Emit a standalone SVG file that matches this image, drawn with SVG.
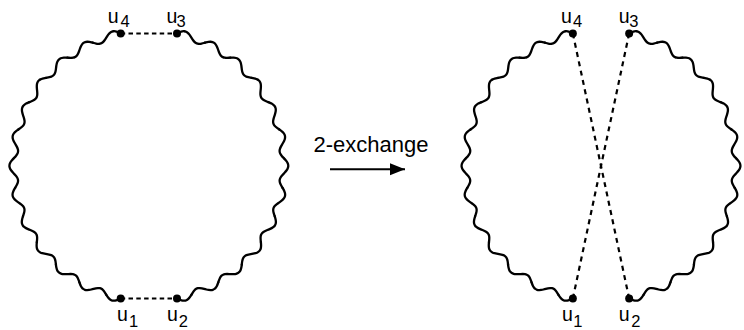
<svg xmlns="http://www.w3.org/2000/svg" xmlns:xlink="http://www.w3.org/1999/xlink" width="744" height="330" viewBox="0 0 744 330">
  <style>
    .wave { fill: none; stroke: #000; stroke-width: 2.3; stroke-linecap: round; stroke-linejoin: round; }
    .edge { fill: none; stroke: #000; stroke-width: 2.2; stroke-dasharray: 4.5 3.3; }
    .cross { fill: none; stroke: #000; stroke-width: 2.2; stroke-dasharray: 5 4.5; }
    .dot { fill: #000; }
    .lbl { font-family: "Liberation Sans", Arial, sans-serif; font-size: 19.5px; fill: #000; }
    .sub { font-size: 16.5px; }
    .cap { font-family: "Liberation Sans", Arial, sans-serif; font-size: 22px; fill: #000; }
  </style>
  <defs>
    <!-- one period of the wavy tour segment, radius 135.5, amplitude 4, spanning 12.47 degrees -->
    <path id="wave" class="wave" d="M135.5,0 L136.259,0.932 Q137.018,1.864 137.648,2.813 Q138.277,3.763 138.678,4.721 Q139.080,5.679 139.187,6.633 Q139.294,7.587 139.084,8.523 Q138.874,9.460 138.371,10.369 Q137.868,11.277 137.139,12.153 Q136.410,13.028 135.554,13.872 Q134.699,14.716 133.833,15.538 Q132.967,16.360 132.206,17.176 Q131.446,17.991 130.889,18.820 Q130.332,19.648 130.042,20.509 Q129.752,21.370 129.751,22.278 Q129.749,23.186 130.011,24.150 Q130.273,25.113 130.732,26.130 Q131.190,27.146 131.747,28.202 L132.303,29.258"/>
    <!-- outward half period -->
    <path id="halfwave" class="wave" d="M135.5,0 L136.259,0.932 Q137.018,1.864 137.648,2.813 Q138.277,3.763 138.678,4.721 Q139.080,5.679 139.187,6.633 Q139.294,7.587 139.084,8.523 Q138.874,9.460 138.371,10.369 Q137.868,11.277 137.139,12.153 Q136.410,13.028 135.554,13.872 L134.699,14.716"/>
    <!-- half tour: 12.5 periods from the top node round to the bottom node -->
    <g id="arc" transform="rotate(-78)">
      <use href="#wave"/>
      <use href="#wave" transform="rotate(12.47)"/>
      <use href="#wave" transform="rotate(24.94)"/>
      <use href="#wave" transform="rotate(37.41)"/>
      <use href="#wave" transform="rotate(49.88)"/>
      <use href="#wave" transform="rotate(62.35)"/>
      <use href="#wave" transform="rotate(74.82)"/>
      <use href="#wave" transform="rotate(87.29)"/>
      <use href="#wave" transform="rotate(99.76)"/>
      <use href="#wave" transform="rotate(112.23)"/>
      <use href="#wave" transform="rotate(124.7)"/>
      <use href="#wave" transform="rotate(137.17)"/>
      <use href="#halfwave" transform="rotate(149.64)"/>
    </g>
    <marker id="head" markerUnits="userSpaceOnUse" markerWidth="16" markerHeight="13" refX="15" refY="6" orient="auto" viewBox="0 0 16 13">
      <path d="M0,0 L15,6 L0,12 Z" fill="#000"/>
    </marker>
  </defs>

  <!-- connectors: tour paths, removed/added edges and the move arrow -->
  <g id="connectors">
    <g id="tour-before">
      <use href="#arc" transform="translate(148.85,166)"/>
      <use href="#arc" transform="translate(148.85,166) scale(-1,1)"/>
      <line class="edge" x1="120.7" y1="33.5" x2="177" y2="33.5"/>
      <line class="edge" x1="120.7" y1="298.5" x2="177" y2="298.5"/>
    </g>
    <g id="tour-after">
      <use href="#arc" transform="translate(601,166)"/>
      <use href="#arc" transform="translate(601,166) scale(-1,1)"/>
      <line class="cross" x1="572.85" y1="33.5" x2="629.15" y2="298.5"/>
      <line class="cross" x1="629.15" y1="33.5" x2="572.85" y2="298.5"/>
    </g>
    <g id="move">
      <line x1="330" y1="169.3" x2="405" y2="169.3" stroke="#000" stroke-width="2" marker-end="url(#head)"/>
      <text class="cap" x="371" y="151.7" text-anchor="middle">2-exchange</text>
    </g>
  </g>

  <!-- tour before the move -->
  <g id="L-u4"><circle class="dot" cx="120.7" cy="33.5" r="4"/><text class="lbl"><tspan x="107.7" y="23">u</tspan><tspan class="sub" x="120.6" y="26.7">4</tspan></text></g>
  <g id="L-u3"><circle class="dot" cx="177" cy="33.5" r="4"/><text class="lbl"><tspan x="166.4" y="23">u</tspan><tspan class="sub" x="176.6" y="26.7">3</tspan></text></g>
  <g id="L-u1"><circle class="dot" cx="120.7" cy="298.5" r="4"/><text class="lbl"><tspan x="117" y="321">u</tspan><tspan class="sub" x="129" y="326.7">1</tspan></text></g>
  <g id="L-u2"><circle class="dot" cx="177" cy="298.5" r="4"/><text class="lbl"><tspan x="167" y="321">u</tspan><tspan class="sub" x="178.8" y="326.7">2</tspan></text></g>

  <!-- tour after the move -->
  <g id="R-u4"><circle class="dot" cx="572.85" cy="33.5" r="4"/><text class="lbl"><tspan x="561" y="23">u</tspan><tspan class="sub" x="572.9" y="26.7">4</tspan></text></g>
  <g id="R-u3"><circle class="dot" cx="629.15" cy="33.5" r="4"/><text class="lbl"><tspan x="618.7" y="23">u</tspan><tspan class="sub" x="629.3" y="26.7">3</tspan></text></g>
  <g id="R-u1"><circle class="dot" cx="572.85" cy="298.5" r="4"/><text class="lbl"><tspan x="562" y="321">u</tspan><tspan class="sub" x="573.3" y="326.7">1</tspan></text></g>
  <g id="R-u2"><circle class="dot" cx="629.15" cy="298.5" r="4"/><text class="lbl"><tspan x="618.7" y="321">u</tspan><tspan class="sub" x="631.2" y="326.7">2</tspan></text></g>
</svg>
